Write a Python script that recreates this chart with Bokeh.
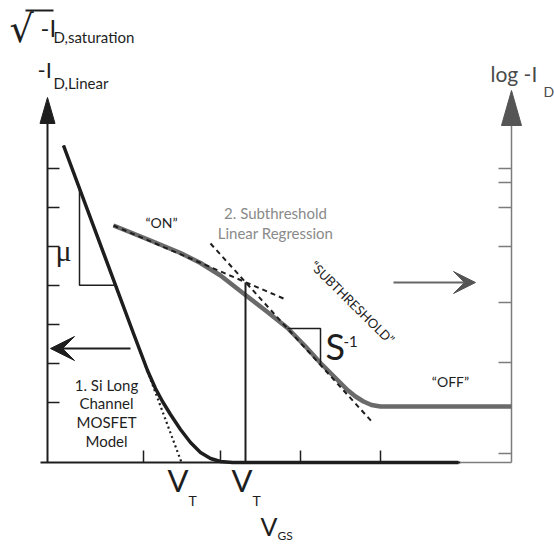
from bokeh.plotting import figure
from bokeh.models import Range1d, Arrow, VeeHead
from bokeh.core.properties import value
from bokeh.embed import file_html
from bokeh.resources import INLINE

# ---- schematic transfer curves (arbitrary units) ----
# left scale: -I_D linear / sqrt(-I_D,sat) vs V_GS
vgs_lin = [1.6, 8.6, 10.0, 10.8, 11.5, 12.3, 13.3, 14.3, 15.3, 16.3, 17.3, 18.5, 41.1]
id_lin = [31.7, 12.9, 9.2, 7.4, 6.1, 4.8, 3.3, 2.0, 1.0, 0.4, 0.1, 0.0, 0.0]

# right scale: log -I_D vs V_GS
vgs_log = [6.6, 10.3, 13.3, 15.3, 17.3, 19.6, 21.8, 24.0, 25.8, 27.3, 28.8, 30.0,
           30.8, 31.6, 32.4, 33.3, 46.4]
id_log = [23.7, 22.2, 20.95, 19.95, 18.7, 16.9, 15.2, 13.45, 11.6, 9.95, 8.45, 7.25,
          6.6, 6.1, 5.75, 5.6, 5.6]

# extrapolation lines (start / end points)
lin_fit_x = [1.6, 13.4]          # long-channel model, V_T at y = 0
lin_fit_y = [31.7, 0.0]
on_fit_x = [6.6, 23.6]           # "ON" region regression
on_fit_y = [23.7, 16.4]
sub_fit_x = [16.3, 32.6]         # subthreshold regression
sub_fit_y = [21.9, 3.9]

vt_lin = 13.4                    # threshold from linear model
vt_sub = 19.8                    # threshold from intersection of regressions
vt_sub_level = 18.0

# axis tick positions
left_ticks = [29.4, 25.5, 21.6, 17.7, 13.8, 9.9, 6.0]
right_ticks = [29.4, 28.0, 25.5, 21.6, 16.0, 10.0, 0.9]
bottom_ticks = [9.6, 17.3, 25.3, 33.3]

x_left, x_right = 0.0, 46.4
x_axis_end = 41.3
y_top_left, y_tip_left = 33.9, 36.5
y_top_right, y_tip_right = 33.7, 37.2

FONT = "Lato"
INK = "#1e1e1e"
GRAY_CURVE = "#6a6a6a"
GRAY_AXIS = "#7c7c7c"

p = figure(width=554, height=544, output_backend="svg", toolbar_location=None,
           x_range=Range1d(-4.7, 50.7), y_range=Range1d(-8.2, 46.2),
           x_axis_location=None, y_axis_location=None, min_border=0)
p.min_border_left = p.min_border_right = p.min_border_top = p.min_border_bottom = 0
p.grid.visible = False
p.outline_line_color = None
p.background_fill_color = "white"
p.border_fill_color = "white"

# ---- axes ----
p.segment(x0=[x_left], y0=[0], x1=[x_left], y1=[y_top_left], line_color=INK, line_width=2)
p.patch(x=[x_left - 0.75, x_left, x_left + 0.75], y=[y_top_left, y_tip_left, y_top_left],
        color=INK, line_width=1)
p.segment(x0=[-0.7], y0=[0], x1=[x_axis_end], y1=[0], line_color=INK, line_width=2)
p.segment(x0=[x_axis_end], y0=[0], x1=[x_right], y1=[0], line_color=GRAY_AXIS, line_width=1.5)
p.segment(x0=[x_right], y0=[0], x1=[x_right], y1=[y_top_right], line_color=GRAY_AXIS, line_width=1.5)
p.patch(x=[x_right - 1.0, x_right, x_right + 1.0], y=[y_top_right, y_tip_right, y_top_right],
        color="#555555", line_width=1)

p.segment(x0=[x_left] * len(left_ticks), y0=left_ticks,
          x1=[x_left + 1.2] * len(left_ticks), y1=left_ticks, line_color=INK, line_width=1.5)
p.segment(x0=[x_right - 1.3] * len(right_ticks), y0=right_ticks,
          x1=[x_right] * len(right_ticks), y1=right_ticks, line_color=GRAY_AXIS, line_width=1.5)
p.segment(x0=bottom_ticks, y0=[0] * len(bottom_ticks), x1=bottom_ticks,
          y1=[1.2] * len(bottom_ticks), line_color=INK, line_width=1.5)

# ---- curves ----
p.line(vgs_log, id_log, line_color=GRAY_CURVE, line_width=4.5, line_join="round")
p.line(vgs_lin, id_lin, line_color=INK, line_width=3.5, line_join="round")

p.line(lin_fit_x, lin_fit_y, line_color=INK, line_width=2.2, line_dash="2 3")
p.line(on_fit_x, on_fit_y, line_color=INK, line_width=2, line_dash="5 4")
p.line(sub_fit_x, sub_fit_y, line_color=INK, line_width=2, line_dash="5 4")

# threshold marker from the regression intersection
p.segment(x0=[vt_sub], y0=[0], x1=[vt_sub], y1=[vt_sub_level], line_color=INK, line_width=2)

# slope triangles: mobility on the linear fit, S^-1 on the subthreshold fit
def on_line(xs, ys, x):
    return ys[0] + (ys[1] - ys[0]) * (x - xs[0]) / (xs[1] - xs[0])

mu_x0, mu_x1 = 3.2, 6.8
p.line([mu_x0, mu_x0, mu_x1],
       [on_line(lin_fit_x, lin_fit_y, mu_x0), on_line(lin_fit_x, lin_fit_y, mu_x1),
        on_line(lin_fit_x, lin_fit_y, mu_x1)], line_color=INK, line_width=1.5)
s_x0, s_x1 = 24.0, 27.3
p.line([s_x0, s_x1, s_x1],
       [on_line(sub_fit_x, sub_fit_y, s_x0), on_line(sub_fit_x, sub_fit_y, s_x0),
        on_line(sub_fit_x, sub_fit_y, s_x1)], line_color=INK, line_width=1.5)

# direction arrows
p.add_layout(Arrow(end=VeeHead(size=24, fill_color=INK, line_color=INK),
                   x_start=8.3, y_start=11.4, x_end=0.3, y_end=11.4,
                   line_color=INK, line_width=2))
p.add_layout(Arrow(end=VeeHead(size=22, fill_color="#555555", line_color="#555555"),
                   x_start=34.6, y_start=18.0, x_end=42.8, y_end=18.0,
                   line_color="#666666", line_width=2))

# ---- labels ----
def label(x, y, text, size, color=INK, align="left", baseline="alphabetic",
          angle=0.0, font=FONT):
    # lift the alphabetic baseline so glyph bottoms land on y
    if baseline == "alphabetic":
        y = y + 0.04 * size
    p.text(x=[x], y=[y], text=[text], text_font=value(font),
           text_font_size=value(f"{size}px"), text_color=color,
           text_align=align, text_baseline=baseline, angle=angle)

# left-axis titles
label(-3.8, 41.8, "\u221a", 38, font="DejaVu Sans")
p.segment(x0=[-2.2], y0=[45.2], x1=[0.6], y1=[45.2], line_color=INK, line_width=1.8)
label(-0.7, 42.5, "-I", 24)
label(0.6, 42.0, "D,saturation", 15)
label(-1.0, 38.4, "-I", 22)
label(0.6, 37.4, "D,Linear", 15)

# right-axis title
label(44.3, 38.1, "log -I", 21, color="#4a4a4a")
label(49.6, 36.5, "D", 14, color="#4a4a4a")

# annotations
label(11.4, 23.4, "\u201cON\u201d", 14, align="center")
label(22.8, 24.4, "2. Subthreshold", 15, color="#8a8a8a", align="center")
label(22.8, 22.4, "Linear Regression", 15, color="#8a8a8a", align="center")
label(30.5, 16.0, "\u201cSUBTHRESHOLD\u201d", 13, align="center", baseline="middle",
      angle=-0.78)
label(40.3, 7.5, "\u201cOFF\u201d", 14, align="center")
label(0.8, 20.0, "\u03bc", 30, font="Liberation Serif")
label(27.8, 10.2, "S", 36)
label(29.6, 11.5, "-1", 15)

model_lines = ["1. Si Long", "Channel", "MOSFET", "Model"]
model_base = [7.2, 5.4, 3.5, 1.6]
for t, yb in zip(model_lines, model_base):
    label(5.9, yb, t, 15, align="center")

# threshold and gate-voltage labels
for vt in (vt_lin, vt_sub):
    label(vt + 0.7, -3.0, "V", 31, align="right")
    label(vt + 0.7, -4.4, "T", 14)
label(23.0, -7.3, "V", 25, align="right")
label(23.0, -7.8, "GS", 12)

open("out.html", "w").write(file_html(p, INLINE))
